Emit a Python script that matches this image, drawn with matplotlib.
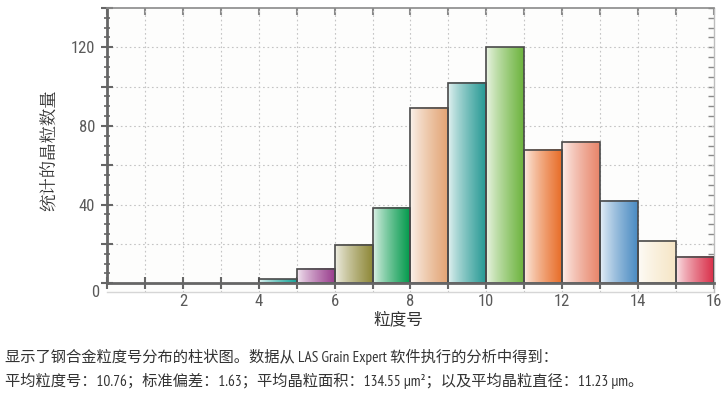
import numpy as np
import matplotlib
matplotlib.use("Agg")
import matplotlib.pyplot as plt
from matplotlib.colors import to_rgb
from matplotlib.ticker import FixedLocator, MultipleLocator

plt.rcParams['font.family'] = ['Noto Sans CJK SC', 'DejaVu Sans']

# grain size bins (left edge) and counts
bin_left = [4, 5, 6, 7, 8, 9, 10, 11, 12, 13, 14, 15]
counts = [2, 7.5, 19.5, 38.5, 89, 102, 120, 68, 72, 42, 21.5, 13.5]
bar_colors = ['#17a398', '#9a3f8e', '#8e8838', '#00984a', '#e2a474', '#289a95',
              '#6db43e', '#e86d28', '#e8856a', '#4a8bc2', '#f6e6c6', '#d9304a']
xticks = [2, 4, 6, 8, 10, 12, 14, 16]
yticks_labeled = [40, 80, 120]

tickfont = ['Roboto Condensed', 'DejaVu Sans']
narrow = ['PT Sans Narrow', 'Noto Sans CJK SC', 'DejaVu Sans']
serif = ['Noto Serif CJK JP', 'Noto Sans CJK SC']

fig = plt.figure(figsize=(7.23, 3.98), dpi=100)
ax = fig.add_axes([0.148, 0.266, 0.8395, 0.714])
ax.set_facecolor('#fdfdfc')

# gradient filled bars
t = np.linspace(0, 1, 64)
for x0, h, c in zip(bin_left, counts, bar_colors):
    rgb = np.array(to_rgb(c))
    w = (t ** 0.8)[:, None]
    light = 0.12 * rgb + 0.88 * np.ones(3)
    grad = (1 - w) * light + w * rgb
    ax.imshow(grad[None, :, :], extent=(x0, x0 + 1, 0, h), aspect='auto',
              interpolation='bilinear', zorder=2)
ax.bar(bin_left, counts, width=1, align='edge', facecolor='none',
       edgecolor='#4a4a4a', linewidth=1.2, zorder=3)

ax.set_xlim(0, 16)
ax.set_ylim(-4.5, 140)

# grid
for gx in range(1, 16):
    ax.axvline(gx, color='#c4c4c4', lw=0.8, ls=(0, (1.5, 2.5)), zorder=1)
for gy in range(20, 140, 20):
    ax.axhline(gy, color='#c4c4c4', lw=0.8, ls=(0, (1.5, 2.5)), zorder=1)

# spines
ax.spines['bottom'].set_position(('data', 0))
ax.spines['bottom'].set_color('#666666')
ax.spines['bottom'].set_linewidth(2)
ax.spines['bottom'].set_zorder(4)
ax.spines['left'].set_bounds(0, 140)
ax.spines['left'].set_color('#666666')
ax.spines['left'].set_linewidth(2)
ax.spines['top'].set_color('#8a8a8a')
ax.spines['top'].set_linewidth(1.2)
ax.spines['right'].set_color('#bdbdbd')
ax.spines['right'].set_linewidth(1)
ax.plot([0, 1], [0, 0], transform=ax.transAxes, color='#d6d6d6', lw=1,
        clip_on=False)

# x ticks
ax.xaxis.set_major_locator(FixedLocator(xticks))
ax.xaxis.set_minor_locator(MultipleLocator(1))
ax.tick_params(axis='x', which='both', direction='inout', length=8, width=1.5,
               color='#666666', pad=4, labelsize=12, labelcolor='#5a5a5a')
for lab in ax.get_xticklabels():
    lab.set_family(tickfont)

# y ticks
ax.yaxis.set_major_locator(FixedLocator(range(0, 141, 20)))
ax.yaxis.set_minor_locator(MultipleLocator(5))
ax.set_yticklabels([str(v) if v in yticks_labeled else '' for v in range(0, 141, 20)])
ax.tick_params(axis='y', which='major', direction='inout', length=9, width=1.5,
               color='#666666', pad=4, labelsize=12, labelcolor='#5a5a5a')
ax.tick_params(axis='y', which='minor', direction='inout', length=5, width=1.2,
               color='#666666')
for lab in ax.get_yticklabels():
    lab.set_family(tickfont)
ax.text(-0.012, 0.0, '0', transform=ax.transAxes, ha='right', va='center',
        fontsize=12, color='#5a5a5a', family=tickfont)

# top and right tick marks
top = ax.secondary_xaxis('top')
top.xaxis.set_major_locator(MultipleLocator(1))
top.tick_params(direction='in', length=5, width=1.5, color='#8a8a8a',
                labeltop=False)
top.spines['top'].set_visible(False)
right = ax.secondary_yaxis('right')
right.yaxis.set_major_locator(MultipleLocator(5))
right.tick_params(direction='in', length=4, width=1, color='#8a8a8a',
                  labelright=False)
right.spines['right'].set_visible(False)

ax.set_xlabel('粒度号', fontsize=12, color='#333333')
ax.xaxis.set_label_coords(0.48, -0.099)
ax.xaxis.label.set_va('center')
ax.set_ylabel('统计的晶粒数量', fontsize=12.5, color='#333333', family=serif)
ax.yaxis.set_label_coords(-0.094, 0.5)
ax.yaxis.label.set_va('center')

fig.text(0.007, 1 - 357 / 398, '显示了钢合金粒度号分布的柱状图。数据从 LAS Grain Expert 软件执行的分析中得到：',
         fontsize=11, color='#333333', family=narrow, va='center')
fig.text(0.007, 1 - 381 / 398, '平均粒度号：10.76；标准偏差：1.63；平均晶粒面积：134.55 µm²；以及平均晶粒直径：11.23 µm。',
         fontsize=11, color='#333333', family=narrow, va='center')

fig.savefig('out.png', dpi=100)
